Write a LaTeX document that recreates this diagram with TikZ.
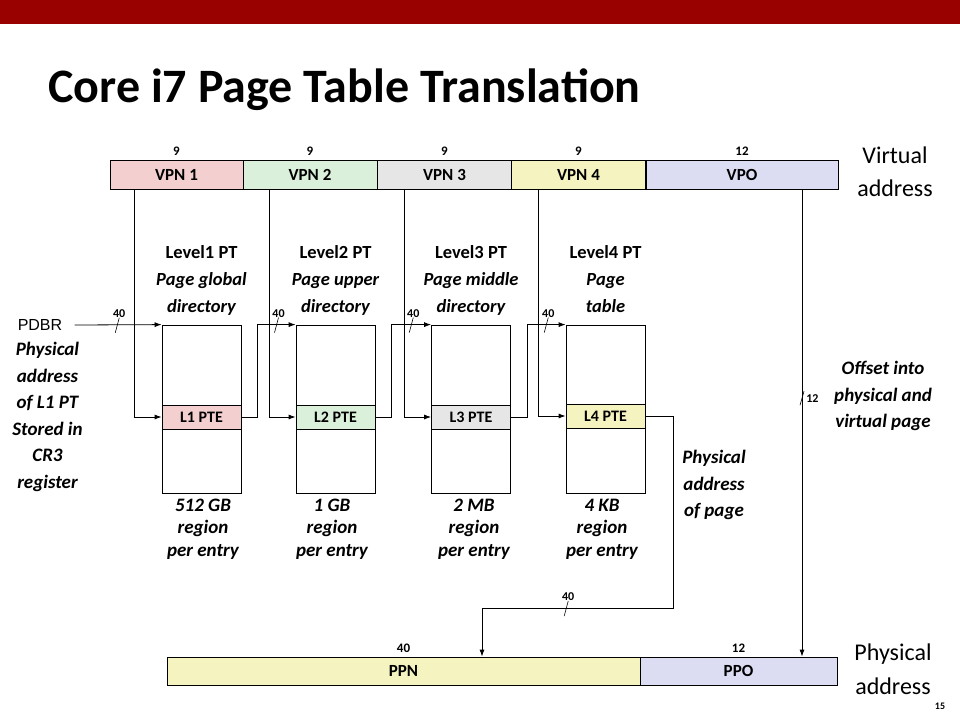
\documentclass[tikz,border=0pt]{standalone}
\usepackage{fontspec}
\setmainfont{Carlito}
\newfontfamily\bfitfont{Carlito Bold Italic}
\newfontfamily\arialfont{Liberation Sans}
\usetikzlibrary{arrows.meta}

\definecolor{barred}{RGB}{153,0,0}
\definecolor{vpnone}{RGB}{243,207,207}
\definecolor{vpntwo}{RGB}{218,240,218}
\definecolor{vpnthree}{RGB}{230,230,230}
\definecolor{vpnfour}{RGB}{245,243,192}
\definecolor{offset}{RGB}{220,221,242}

\tikzset{
  field/.style={draw, minimum height=29pt, inner sep=0pt, font=\bfseries\fontsize{17}{17}\selectfont},
  bits/.style={font=\bfseries\fontsize{13}{13}\selectfont},
  table/.style={draw, minimum width=79pt, minimum height=168pt, inner sep=0pt},
  pte/.style={draw, minimum width=79pt, minimum height=24pt, inner sep=0pt, font=\bfseries\fontsize{16}{16}\selectfont},
  ptname/.style={align=center, anchor=north, font=\bfseries\fontsize{18.5}{27}\selectfont},
  note/.style={align=center, font=\bfitfont\fontsize{19}{26.5}\selectfont},
  region/.style={align=center, anchor=north, font=\bfitfont\fontsize{19}{22.5}\selectfont},
  bus/.style={font=\bfseries\fontsize{12}{12}\selectfont, inner sep=0pt},
  arr/.style={-{Latex[length=7pt,width=5pt]}},
}

\begin{document}
\begin{tikzpicture}[x=1pt, y=-1pt, line width=0.8pt]
\useasboundingbox (0,0) rectangle (960,720);
\fill[barred] (0,0) rectangle (960,24);
\node[anchor=base west, inner sep=0pt, font=\bfseries\fontsize{48}{48}\selectfont] (title) at (48,102) {Core i7 Page Table Translation};

% virtual address
\node[field, fill=vpnone, minimum width=133pt, label={[bits]above:9}] (vpn1) at (176.5,174.5) {VPN 1};
\node[field, fill=vpntwo, minimum width=134pt, label={[bits]above:9}] (vpn2) at (310,174.5) {VPN 2};
\node[field, fill=vpnthree, minimum width=134pt, label={[bits]above:9}] (vpn3) at (444.5,174.5) {VPN 3};
\node[field, fill=vpnfour, minimum width=134pt, label={[bits]above:9}] (vpn4) at (578.5,174.5) {VPN 4};
\node[field, fill=offset, minimum width=192pt, label={[bits]above:12}] (vpo) at (742,174.5) {VPO};
\node[align=center, font=\fontsize{24}{33}\selectfont] (va) at (895,171.5) {Virtual\\ address};

% page tables
\node[ptname] (lv1) at (201.5,242) {Level1 PT\\ {\bfitfont Page global}\\ {\bfitfont directory}};
\node[ptname] (lv2) at (335.5,242) {Level2 PT\\ {\bfitfont Page upper}\\ {\bfitfont directory}};
\node[ptname] (lv3) at (471,242) {Level3 PT\\ {\bfitfont Page middle}\\ {\bfitfont directory}};
\node[ptname] (lv4) at (605.5,242) {Level4 PT\\ {\bfitfont Page}\\ {\bfitfont table}};

\node[table] (tab1) at (201.5,409) {};
\node[table] (tab2) at (335.5,409) {};
\node[table] (tab3) at (471,409) {};
\node[table] (tab4) at (605.5,409) {};
\node[pte, fill=vpnone] (pte1) at (201.5,417) {L1 PTE};
\node[pte, fill=vpntwo] (pte2) at (335.5,417) {L2 PTE};
\node[pte, fill=vpnthree] (pte3) at (471,417) {L3 PTE};
\node[pte, fill=vpnfour] (pte4) at (605.5,416) {L4 PTE};

\node[region] (reg1) at (203,495) {512 GB\\ region\\ per entry};
\node[region] (reg2) at (332,495) {1 GB\\ region\\ per entry};
\node[region] (reg3) at (474,495) {2 MB\\ region\\ per entry};
\node[region] (reg4) at (602,495) {4 KB\\ region\\ per entry};

\node[font=\arialfont\fontsize{16}{16}\selectfont, inner sep=0pt, inner xsep=12pt] (pdbr) at (40,325) {PDBR};
\node[note] (cr3) at (47.5,417) {Physical\\ address\\ of L1 PT\\ Stored in\\ CR3\\ register};
\node[note] (ppage) at (714,485) {Physical\\ address\\ of page};
\node[note] (offs) at (883,396) {Offset into\\ physical and\\ virtual page};

% physical address
\node[field, fill=vpnfour, minimum width=473pt, minimum height=28pt, label={[bits]above:40}] (ppn) at (403.5,671) {PPN};
\node[field, fill=offset, minimum width=197pt, minimum height=28pt, label={[bits]above:12}] (ppo) at (738.5,671) {PPO};
\node[align=center, font=\fontsize{24}{34}\selectfont] (pa) at (893,669) {Physical\\ address};
\node[font=\bfseries\fontsize{10}{10}\selectfont] (pnum) at (940,706) {15};

% connectors
\draw[arr] (pdbr.east) -- coordinate[pos=0.49] (bus0) (tab1.north west);
\draw[arr] ([xshift=-42.5pt]vpn1.south) |- (pte1.west);
\draw[arr] ([xshift=-41pt]vpn2.south) |- (pte2.west);
\draw[arr] ([xshift=-40.5pt]vpn3.south) |- (pte3.west);
\draw[arr] ([xshift=-40.5pt]vpn4.south) |- (pte4.west);
\draw[arr] (pte1.east) -- ++(16,0) |- coordinate[pos=0.75] (bus1) (tab2.north west);
\draw[arr] (pte2.east) -- ++(16,0) |- coordinate[pos=0.75] (bus2) (tab3.north west);
\draw[arr] (pte3.east) -- ++(16,0) |- coordinate[pos=0.75] (bus3) (tab4.north west);
\draw[arr] (pte4.east) -- ++(28,0) -- ++(0,192) -| coordinate[pos=0.28] (bus4) ([xshift=78.5pt]ppn.north);
\draw[arr] ([xshift=60pt]vpo.south) -- coordinate[pos=0.447] (bus5) ([xshift=63.5pt]ppo.north);

% bus widths
\draw[line width=0.6pt] (bus0) ++(-2,8) -- ++(4,-15) node[bus, anchor=south] (w0) {40};
\draw[line width=0.6pt] (bus1) ++(-2,8) -- ++(4,-15) node[bus, anchor=south] (w1) {40};
\draw[line width=0.6pt] (bus2) ++(-2,8) -- ++(4,-15) node[bus, anchor=south] (w2) {40};
\draw[line width=0.6pt] (bus3) ++(-2,8) -- ++(4,-15) node[bus, anchor=south] (w3) {40};
\draw[line width=0.6pt] (bus4) ++(-2,8) -- ++(4,-15) node[bus, anchor=south] (w4) {40};
\draw[line width=0.6pt] (bus5) ++(-2,7) -- ++(4,-14);
\node[bus, anchor=west] (w5) at ([xshift=4pt]bus5) {12};
\end{tikzpicture}
\end{document}
